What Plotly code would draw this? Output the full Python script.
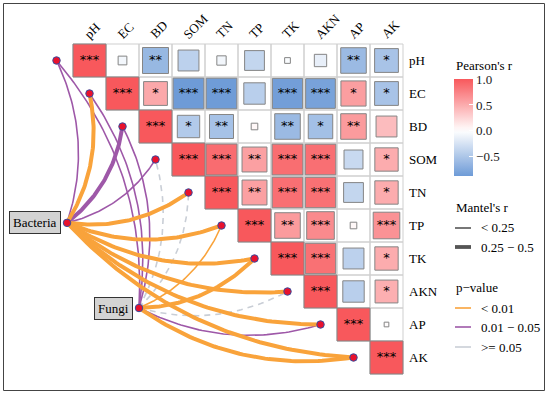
import numpy as np
import plotly.graph_objects as go

# ---------------- data ----------------
env = ["pH", "EC", "BD", "SOM", "TN", "TP", "TK", "AKN", "AP", "AK"]

# Pearson's r, upper triangle incl. diagonal (row i, columns i..9)
r_rows = [
    [1.00, -0.07, -0.62, -0.40, -0.08, -0.36, -0.03, -0.14, -0.60, -0.52],
    [1.00, 0.52, -0.87, -0.86, -0.42, -0.84, -0.81, 0.58, -0.52],
    [1.00, -0.46, -0.53, 0.04, -0.60, -0.55, 0.60, 0.40],
    [1.00, 0.88, 0.57, 0.87, 0.86, -0.33, 0.50],
    [1.00, 0.57, 0.86, 0.85, -0.36, 0.50],
    [1.00, 0.60, 0.70, 0.04, 0.65],
    [1.00, 0.85, -0.40, 0.50],
    [1.00, -0.42, 0.48],
    [1.00, 0.02],
    [1.00],
]
star_rows = [
    ["***", "", "**", "", "", "", "", "", "**", "*"],
    ["***", "*", "***", "***", "", "***", "***", "*", "*"],
    ["***", "*", "**", "", "**", "*", "**", ""],
    ["***", "***", "**", "***", "***", "", "*"],
    ["***", "**", "***", "***", "", "*"],
    ["***", "**", "***", "", "***"],
    ["***", "***", "", "*"],
    ["***", "", "*"],
    ["***", ""],
    ["***"],
]

species = ["Bacteria", "Fungi"]
spec_x = [-0.68, 1.50]
spec_y = [4.92, 7.50]

mantel_spec = ["Bacteria"] * 10 + ["Fungi"] * 10
mantel_env = env + env
mantel_r = ["<0.25", "0.25-0.5", "0.25-0.5", "<0.25", "0.25-0.5", "0.25-0.5", "0.25-0.5", "0.25-0.5", "0.25-0.5", "0.25-0.5",
            "<0.25", "<0.25", "<0.25", "<0.25", "<0.25", "<0.25", "0.25-0.5", "<0.25", "<0.25", "0.25-0.5"]
mantel_p = ["0.01-0.05", "<0.01", "0.01-0.05", "0.01-0.05", "<0.01", "<0.01", "<0.01", "<0.01", "<0.01", "<0.01",
            "0.01-0.05", "0.01-0.05", "0.01-0.05", ">=0.05", ">=0.05", "<0.01", "<0.01", ">=0.05", "0.01-0.05", "<0.01"]

# ---------------- styles ----------------
FONT = "Liberation Serif"
RED = (248, 88, 92)
BLUE = (88, 140, 209)
P_COL = {"<0.01": "#F9A33B", "0.01-0.05": "#9E58A8", ">=0.05": "#C9CED6"}
R_W = {"<0.25": 1.6, "0.25-0.5": 4.0}
W, H = 550, 394
CELL = 33.0
X0PX, Y0PX = 89.5, 60.5  # pixel centre of cell (0,0)


def rcol(v):
    c = RED if v >= 0 else BLUE
    a = min(abs(v), 1.0)
    return "rgb(%d,%d,%d)" % tuple(round(255 + (ci - 255) * a) for ci in c)


def dx(px):
    return (px - X0PX) / CELL


def dy(py):
    return (py - Y0PX) / CELL


fig = go.Figure()
n = len(env)

# grid of the upper triangle
gx, gy = [], []
for i in range(n):
    for j in range(i, n):
        gx += [j - 0.5, j + 0.5, j + 0.5, j - 0.5, j - 0.5, None]
        gy += [i - 0.5, i - 0.5, i + 0.5, i + 0.5, i - 0.5, None]
fig.add_trace(go.Scatter(x=gx, y=gy, mode="lines", line=dict(color="#CFCFCF", width=1),
                         hoverinfo="skip", showlegend=False))

# squares
all_r = []
sx, sy, st = [], [], []
for i, row in enumerate(r_rows):
    for k, v in enumerate(row):
        j = i + k
        all_r.append(v)
        h = np.sqrt(abs(v)) / 2
        fig.add_trace(go.Scatter(x=[j - h, j + h, j + h, j - h, j - h],
                                 y=[i - h, i - h, i + h, i + h, i - h],
                                 mode="lines", fill="toself", fillcolor=rcol(v),
                                 line=dict(color="#858585", width=1),
                                 hoverinfo="skip", showlegend=False))
        if star_rows[i][k]:
            sx.append(j)
            sy.append(i + 0.02)
            st.append(star_rows[i][k])
fig.add_trace(go.Scatter(x=sx, y=sy, text=st, mode="text", textposition="middle center",
                         textfont=dict(family="DejaVu Sans", size=13, color="black"),
                         hoverinfo="skip", showlegend=False))

# colour bar (via invisible markers)
cmin, cmax = min(all_r), 1.0
cs = []
for t in np.linspace(0, 1, 21):
    v = cmin + t * (cmax - cmin)
    cs.append([float(t), rcol(v)])
fig.add_trace(go.Scatter(
    x=[0, 0], y=[0, 0], mode="markers", hoverinfo="skip", showlegend=False,
    marker=dict(size=1, opacity=0, color=[cmin, cmax], cmin=cmin, cmax=cmax, colorscale=cs,
                showscale=True,
                colorbar=dict(x=454 / W, xanchor="left", xpad=0, ypad=0,
                              y=1 - 79 / H, yanchor="top",
                              len=97, lenmode="pixels", thickness=19, thicknessmode="pixels",
                              outlinewidth=0, ticks="inside", ticklen=4, tickcolor="white",
                              tickvals=[-0.5, 0, 0.5, 1.0], ticktext=["\u22120.5", "0.0", "0.5", "1.0"],
                              tickfont=dict(family=FONT, size=13, color="#1a1a1a"),
                              title=dict(text=""))))
)

# Mantel curves
env_pos = {e: (i - 1.0, float(i)) for i, e in enumerate(env)}
spec_pos = {s: (spec_x[k], spec_y[k]) for k, s in enumerate(species)}


def curve(p0, p1, k=0.2, m=60):
    x0, y0 = p0
    x1, y1 = p1
    ddx, ddy = x1 - x0, y1 - y0
    L = np.hypot(ddx, ddy)
    nx, ny = -ddy / L, ddx / L
    cx = (x0 + x1) / 2 + k * L * nx
    cy = (y0 + y1) / 2 + k * L * ny
    t = np.linspace(0, 1, m)
    xs = (1 - t) ** 2 * x0 + 2 * t * (1 - t) * cx + t ** 2 * x1
    ys = (1 - t) ** 2 * y0 + 2 * t * (1 - t) * cy + t ** 2 * y1
    return xs, ys


order = sorted(range(len(mantel_env)), key=lambda q: {">=0.05": 0, "0.01-0.05": 1, "<0.01": 2}[mantel_p[q]])
for q in order:
    xs, ys = curve(spec_pos[mantel_spec[q]], env_pos[mantel_env[q]])
    dash = "6px,5px" if mantel_p[q] == ">=0.05" else "solid"
    fig.add_trace(go.Scatter(x=xs, y=ys, mode="lines",
                             line=dict(color=P_COL[mantel_p[q]], width=R_W[mantel_r[q]], dash=dash),
                             hoverinfo="skip", showlegend=False))

# nodes
nx_ = [env_pos[e][0] for e in env] + spec_x
ny_ = [env_pos[e][1] for e in env] + spec_y
fig.add_trace(go.Scatter(x=nx_, y=ny_, mode="markers",
                         marker=dict(size=7.5, color="#E8112D", line=dict(color="#3A4C9E", width=1)),
                         hoverinfo="skip", showlegend=False))

ann = []
# species labels
for k, s in enumerate(species):
    ann.append(dict(x=spec_x[k], y=spec_y[k], xref="x", yref="y", text=s, showarrow=False,
                    xanchor="right", yanchor="middle", xshift=-6,
                    font=dict(family=FONT, size=13, color="black"),
                    bgcolor="#D3D3D3", bordercolor="#333333", borderwidth=1, borderpad=3))

# right row labels
for i, e in enumerate(env):
    ann.append(dict(x=n - 0.5, y=i, xref="x", yref="y", text=e, showarrow=False,
                    xanchor="left", yanchor="middle", xshift=4,
                    font=dict(family=FONT, size=13, color="black")))

# top rotated labels
cw = {"p": .5, "H": .722, "E": .611, "C": .667, "B": .667, "D": .722, "S": .556, "O": .722,
      "M": .889, "T": .611, "N": .722, "P": .556, "K": .722, "A": .722}
for j, e in enumerate(env):
    w = sum(cw.get(ch, .6) for ch in e) * 13
    px0 = X0PX + CELL * j - 3
    py0 = 36
    cxp = px0 + w / 2 * 0.7071
    cyp = py0 - w / 2 * 0.7071
    ann.append(dict(x=dx(cxp), y=dy(cyp), xref="x", yref="y", text=e, showarrow=False,
                    textangle=-45, xanchor="center", yanchor="middle",
                    font=dict(family=FONT, size=13, color="black")))

# legends (Pearson's r title, Mantel's r, p-value)
def P(px, py):
    return px / W, 1 - py / H


shapes = []
def leg_title(txt, py):
    x, y = P(454, py)
    ann.append(dict(x=x, y=y, xref="paper", yref="paper", text=txt, showarrow=False,
                    xanchor="left", yanchor="middle", font=dict(family=FONT, size=13, color="black")))


def leg_item(txt, py, color, width):
    xa, ya = P(455, py)
    xb, _ = P(471, py)
    shapes.append(dict(type="line", xref="paper", yref="paper", x0=xa, x1=xb, y0=ya, y1=ya,
                       line=dict(color=color, width=width)))
    xt, _ = P(479, py)
    ann.append(dict(x=xt, y=ya, xref="paper", yref="paper", text=txt, showarrow=False,
                    xanchor="left", yanchor="middle", font=dict(family=FONT, size=13, color="black")))


leg_title("Pearson's r", 66)
leg_title("Mantel's r", 207)
leg_item("< 0.25", 228, "#555555", 1.6)
leg_item("0.25 \u2212 0.5", 247, "#555555", 3.8)
leg_title("p\u2212value", 287)
leg_item("< 0.01", 308, P_COL["<0.01"], 1.6)
leg_item("0.01 \u2212 0.05", 327, P_COL["0.01-0.05"], 1.6)
leg_item(">= 0.05", 347, P_COL[">=0.05"], 1.6)

# outer frame
fx0, fy0 = P(3.5, 390.5)
fx1, fy1 = P(544.5, 3.5)
shapes.append(dict(type="rect", xref="paper", yref="paper", x0=fx0, x1=fx1, y0=fy0, y1=fy1,
                   line=dict(color="#444444", width=1)))

fig.update_layout(
    width=W, height=H, margin=dict(l=0, r=0, t=0, b=0),
    paper_bgcolor="white", plot_bgcolor="white",
    xaxis=dict(range=[dx(0), dx(W)], visible=False, fixedrange=True),
    yaxis=dict(range=[dy(H), dy(0)], visible=False, fixedrange=True),
    annotations=ann, shapes=shapes, showlegend=False,
)

fig.write_html("out.html", post_script="document.body.style.margin='0px';",
               config={"displayModeBar": False})
